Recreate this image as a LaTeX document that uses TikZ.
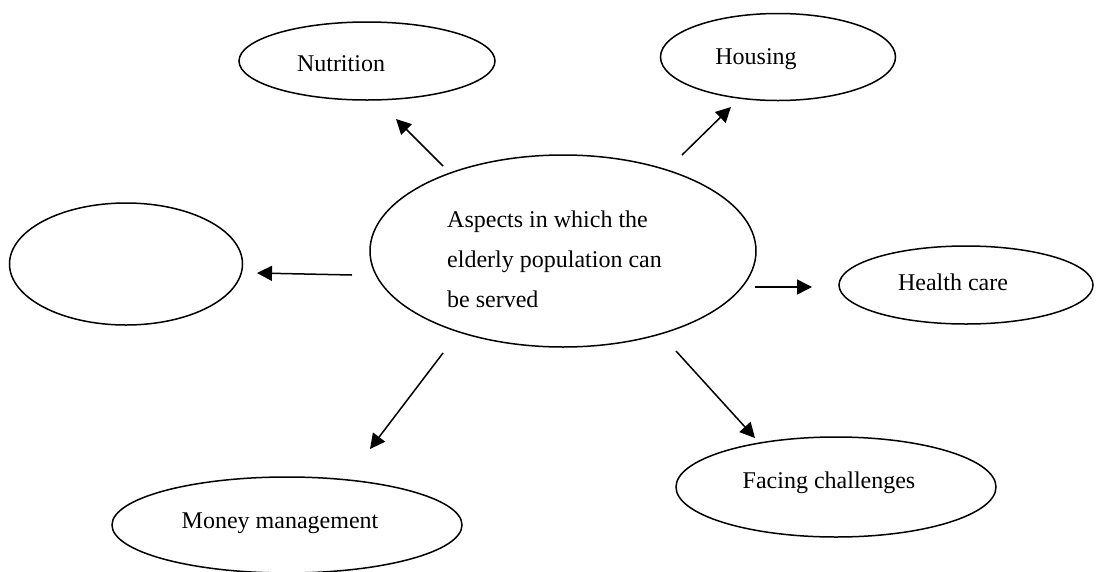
\documentclass[tikz,border=0pt]{standalone}
\usepackage{fontspec}
\setmainfont{Liberation Serif}
\usetikzlibrary{shapes.geometric,arrows.meta}
\begin{document}
\begin{tikzpicture}[x=1pt,y=-1pt,
  bubble/.style={ellipse,draw,line width=1.5pt,inner sep=0pt},
  lbl/.style={anchor=base,inner sep=0pt,font=\fontsize{24}{28}\selectfont},
  conn/.style={line width=1.5pt,-{Triangle[length=15pt,width=15pt]}}]
\useasboundingbox (0,0) rectangle (1096,571);
\clip (0,0) rectangle (1096,571);
% ellipses
\node[bubble,minimum width=386pt,minimum height=192pt] (center) at (563,251) {};
\node[bubble,minimum width=256pt,minimum height=78pt] (nut) at (367,61) {};
\node[bubble,minimum width=235pt,minimum height=87pt] (hou) at (778,57) {};
\node[bubble,minimum width=233pt,minimum height=122pt] (empty) at (126,264) {};
\node[bubble,minimum width=254pt,minimum height=78pt] (hea) at (966,285) {};
\node[bubble,minimum width=320pt,minimum height=100pt] (fac) at (836,487) {};
\node[bubble,minimum width=350pt,minimum height=96pt] (mon) at (287,525) {};
% texts
\node[anchor=base west,inner sep=0pt,font=\fontsize{24}{28}\selectfont] (ctext) at (447,227)
  {\vtop{\baselineskip=40pt\hbox{Aspects in which the}\hbox{elderly population can}\hbox{be served}}};
\node[lbl] (tnut) at (341,71) {Nutrition};
\node[lbl] (thou) at (756,64) {Housing};
\node[lbl] (thea) at (953,290) {Health care};
\node[lbl] (tfac) at (829,488) {Facing challenges};
\node[lbl] (tmon) at (280,528) {Money management};
% connector ends
\coordinate (a1) at (443,166); \coordinate (b1) at (396,119);
\coordinate (a2) at (682,155); \coordinate (b2) at (731,107);
\coordinate (a3) at (352,275); \coordinate (b3) at (257,273);
\coordinate (a4) at (755,287); \coordinate (b4) at (812,287);
\coordinate (a5) at (443,353); \coordinate (b5) at (370,449);
\coordinate (a6) at (676,351); \coordinate (b6) at (755,438);
\draw[conn] (a1) -- (b1);
\draw[conn] (a2) -- (b2);
\draw[conn] (a3) -- (b3);
\draw[conn] (a4) -- (b4);
\draw[conn] (a5) -- (b5);
\draw[conn] (a6) -- (b6);
\end{tikzpicture}
\end{document}
